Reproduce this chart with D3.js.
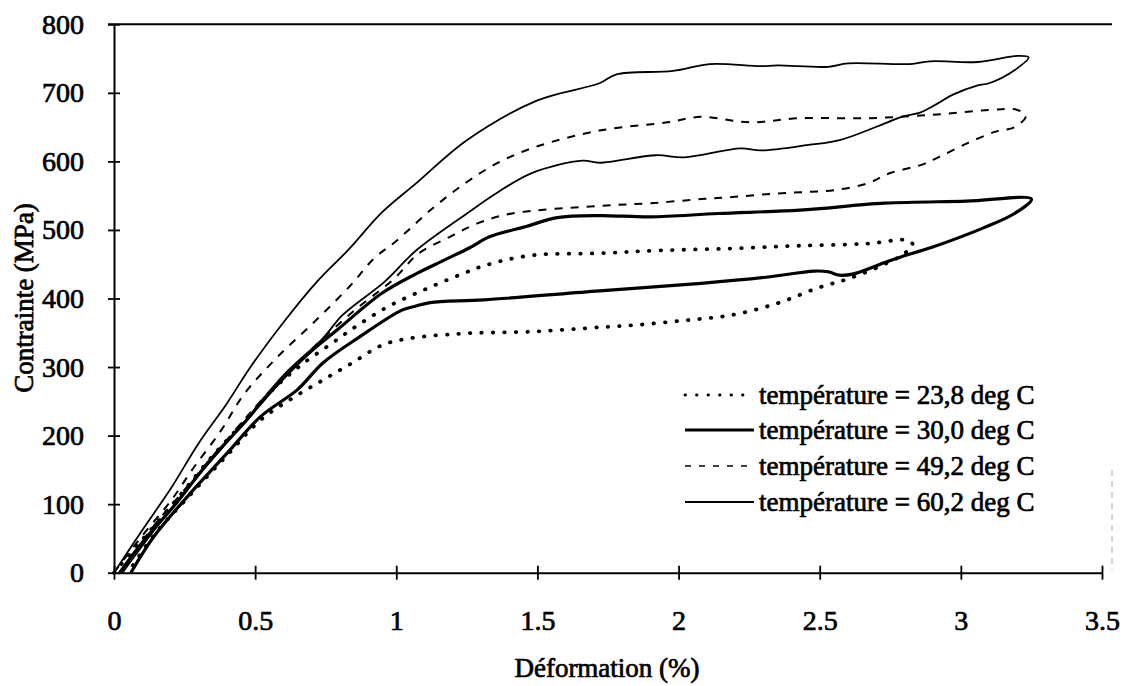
<!DOCTYPE html>
<html>
<head>
<meta charset="utf-8">
<script src="https://cdn.jsdelivr.net/npm/d3@7"></script>
<style>
	body { margin: 0; background: #fff; }
	svg text { font-family: "Liberation Serif", "Times New Roman", serif; fill: #000; }
</style>
</head>
<body>
<div class="chart"></div>
<script>
var strainTicks = [0, 0.5, 1, 1.5, 2, 2.5, 3, 3.5];
var stressTicks = [0, 100, 200, 300, 400, 500, 600, 700, 800];
var seriesLabels = ["température = 23,8 deg C", "température = 30,0 deg C", "température = 49,2 deg C", "température = 60,2 deg C"];

// [strain %, stress MPa], loading then unloading
var load238 = [[0, 0], [0.10, 48], [0.22, 106], [0.34, 166], [0.46, 220], [0.56, 266], [0.66, 302], [0.78, 337], [0.86, 360], [0.97, 388], [1.10, 413], [1.24, 437], [1.32, 449], [1.48, 463], [1.72, 466], [1.93, 470], [2.19, 473], [2.43, 477], [2.67, 480], [2.81, 485], [2.83, 478]];
var unload238 = [[2.79, 463], [2.74, 452], [2.61, 430], [2.49, 415], [2.35, 393], [2.19, 376], [2.02, 368], [1.84, 361], [1.72, 358], [1.50, 352], [1.30, 350], [1.24, 349], [1.05, 342], [0.95, 332], [0.84, 305], [0.74, 281], [0.63, 254], [0.52, 223], [0.40, 171], [0.26, 109], [0.14, 54], [0.05, 0]];
var load300 = [[0.02, 0], [0.10, 44], [0.22, 101], [0.34, 164], [0.46, 218], [0.56, 266], [0.69, 320], [0.79, 354], [0.95, 408], [1.07, 436], [1.17, 456], [1.26, 474], [1.33, 490], [1.46, 505], [1.57, 518], [1.72, 521], [1.90, 519], [2.14, 524], [2.43, 529], [2.73, 539], [3.02, 542], [3.25, 545]];
var unload300 = [[3.19, 524], [3.08, 503], [2.90, 475], [2.79, 461], [2.74, 454], [2.62, 436], [2.57, 434], [2.53, 439], [2.48, 440], [2.31, 431], [2.08, 422], [1.72, 411], [1.31, 398], [1.12, 394], [1.07, 389], [1.02, 383], [0.87, 344], [0.74, 306], [0.65, 267], [0.52, 228], [0.40, 174], [0.26, 111], [0.14, 52], [0.06, 0]];
var load492 = [[0, 0], [0.10, 54], [0.20, 104], [0.28, 152], [0.38, 208], [0.46, 260], [0.58, 315], [0.72, 370], [0.84, 420], [0.92, 458], [1.00, 484], [1.13, 532], [1.25, 570], [1.37, 600], [1.50, 622], [1.72, 645], [1.96, 657], [2.08, 665], [2.25, 657], [2.43, 663], [2.67, 663], [2.90, 668], [3.10, 675], [3.20, 675], [3.23, 666]];
var unload492 = [[3.19, 650], [3.12, 643], [3.02, 626], [2.92, 606], [2.86, 595], [2.75, 583], [2.67, 568], [2.55, 558], [2.43, 555], [2.31, 552], [2.19, 548], [2.08, 545], [1.90, 539], [1.72, 535], [1.41, 524], [1.29, 510], [1.19, 490], [1.08, 466], [0.99, 428], [0.85, 382], [0.70, 326], [0.55, 264], [0.40, 194], [0.25, 121], [0.12, 57], [0.03, 0]];
var load602 = [[0, 0], [0.10, 62], [0.20, 122], [0.30, 189], [0.40, 247], [0.48, 298], [0.60, 365], [0.72, 425], [0.83, 471], [0.95, 526], [1.07, 568], [1.25, 631], [1.50, 689], [1.72, 714], [1.78, 727], [1.98, 732], [2.11, 742], [2.29, 739], [2.35, 740], [2.53, 738], [2.60, 743], [2.82, 742], [2.89, 746], [3.06, 745], [3.20, 754], [3.24, 752]];
var unload602 = [[3.19, 733], [3.10, 714], [3.06, 711], [2.97, 697], [2.92, 685], [2.86, 672], [2.79, 665], [2.74, 657], [2.57, 631], [2.46, 624], [2.29, 616], [2.22, 619], [2.02, 606], [1.92, 609], [1.72, 598], [1.66, 601], [1.48, 583], [1.36, 555], [1.25, 524], [1.07, 470], [0.96, 425], [0.81, 376], [0.74, 342], [0.60, 288], [0.45, 214], [0.30, 142], [0.15, 66], [0.03, 0]];

(function () {

	var width = 1132,
	    height = 686,
	    fontSize = 27,
	    ink = 0.7; // scan makes the text look heavier

	var svg = d3.select(".chart")
		.append("svg")
		.attr("width", width)
		.attr("height", height);

	var x = d3.scaleLinear().domain([0, 3.5]).range([114, 1102]);
	var y = d3.scaleLinear().domain([0, 800]).range([572.7, 24.3]);

	// faint right border left over from the scan
	svg.append("line")
		.attr("x1", 1112).attr("x2", 1112)
		.attr("y1", 470).attr("y2", 570)
		.attr("stroke", "#aaa")
		.attr("stroke-width", 1)
		.attr("stroke-dasharray", "6 5");

	// top border
	svg.append("line")
		.attr("x1", 108).attr("x2", 1112)
		.attr("y1", y(800)).attr("y2", y(800))
		.attr("stroke", "#000")
		.attr("stroke-width", 2);

	var yAxis = svg.append("g")
		.attr("transform", "translate(" + x(0) + ",0)")
		.call(d3.axisLeft(y).tickValues(stressTicks).tickSize(6).tickSizeOuter(0).tickPadding(24).tickFormat(d3.format("d")));
	yAxis.selectAll(".tick line").attr("x1", 6);

	var xAxis = svg.append("g")
		.attr("transform", "translate(0," + y(0) + ")")
		.call(d3.axisBottom(x).tickValues(strainTicks).tickSize(7).tickSizeOuter(0).tickPadding(30).tickFormat(function (d) { return String(d); }));
	xAxis.selectAll(".tick line").attr("y1", -7);

	svg.selectAll(".domain").attr("stroke", "#000").attr("stroke-width", 2);
	svg.selectAll(".tick line").attr("stroke", "#000").attr("stroke-width", 1.8);
	svg.selectAll(".tick text")
		.style("font-size", (fontSize + 1) + "px")
		.attr("stroke", "#000")
		.attr("stroke-width", ink);

	svg.append("text")
		.attr("transform", "translate(24,298) rotate(-90)")
		.attr("text-anchor", "middle")
		.attr("dy", "0.35em")
		.style("font-size", fontSize + "px")
		.attr("stroke", "#000").attr("stroke-width", ink)
		.text("Contrainte (MPa)");

	svg.append("text")
		.attr("x", 607)
		.attr("y", 677)
		.attr("text-anchor", "middle")
		.style("font-size", fontSize + "px")
		.attr("stroke", "#000").attr("stroke-width", ink)
		.text("Déformation (%)");

	var styles = [
		{ width: 3.8, dash: "0.5 11", cap: "round" },
		{ width: 3.2, dash: null, cap: "butt" },
		{ width: 2, dash: "8 8", cap: "butt" },
		{ width: 1.8, dash: null, cap: "butt" }
	];
	var legendStyles = [
		{ width: 2.8, dash: "0.5 11", cap: "round" },
		{ width: 3.2, dash: null, cap: "butt" },
		{ width: 1.6, dash: "6 8", cap: "butt" },
		{ width: 1.8, dash: null, cap: "butt" }
	];

	var loops = [
		load238.concat(unload238),
		load300.concat(unload300),
		load492.concat(unload492),
		load602.concat(unload602)
	];

	var line = d3.line()
		.x(function (d) { return x(d[0]); })
		.y(function (d) { return y(d[1]); })
		.curve(d3.curveCatmullRom.alpha(0.5));

	svg.selectAll("path.loop")
		.data(loops)
		.enter().append("path")
		.attr("class", "loop")
		.attr("d", line)
		.attr("fill", "none")
		.attr("stroke", "#000")
		.attr("stroke-linejoin", "round")
		.attr("stroke-width", function (d, i) { return styles[i].width; })
		.attr("stroke-dasharray", function (d, i) { return styles[i].dash; })
		.attr("stroke-linecap", function (d, i) { return styles[i].cap; });

	var legendRows = [395, 430, 466, 502];

	var item = svg.selectAll("g.legend")
		.data(seriesLabels)
		.enter().append("g")
		.attr("class", "legend")
		.attr("transform", function (d, i) { return "translate(0," + legendRows[i] + ")"; });

	item.append("line")
		.attr("x1", 685).attr("x2", 754)
		.attr("stroke", "#000")
		.attr("stroke-width", function (d, i) { return legendStyles[i].width; })
		.attr("stroke-dasharray", function (d, i) { return legendStyles[i].dash; })
		.attr("stroke-linecap", function (d, i) { return legendStyles[i].cap; });

	item.append("text")
		.attr("x", 759)
		.attr("dy", "0.35em")
		.style("font-size", fontSize + "px")
		.attr("stroke", "#000").attr("stroke-width", ink)
		.text(function (d) { return d; });

})();
</script>
</body>
</html>
